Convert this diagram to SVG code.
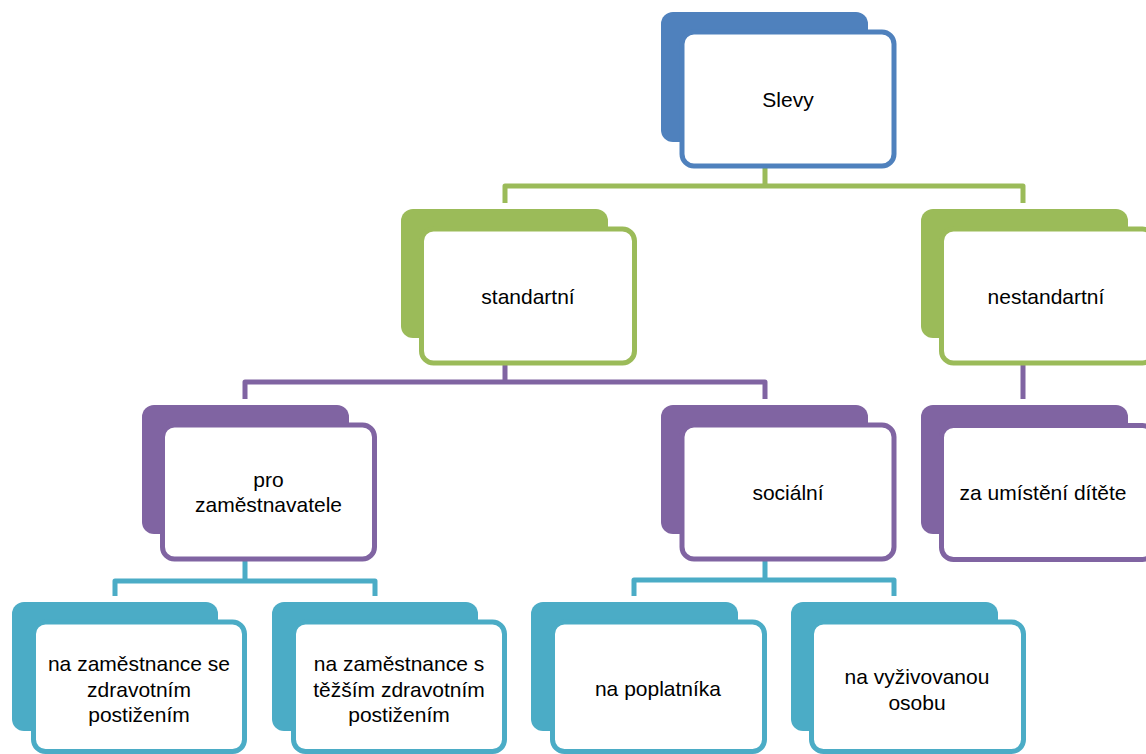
<svg xmlns="http://www.w3.org/2000/svg" width="1146" height="754" viewBox="0 0 1146 754">
<style>
.back{stroke:none}
.front{fill:#FFFFFF;stroke-width:5}
.blue .back{fill:#4F81BD}.blue .front{stroke:#4F81BD}
.green .back{fill:#9BBB59}.green .front{stroke:#9BBB59}
.purple .back{fill:#8064A2}.purple .front{stroke:#8064A2}
.teal .back{fill:#4BACC6}.teal .front{stroke:#4BACC6}
.lbl{font-family:"Liberation Sans",Arial,sans-serif;font-size:21px;fill:#000000;text-anchor:middle}
.conn path{fill:none;stroke-width:5;stroke-linejoin:round}
</style>
<rect width="1146" height="754" fill="#FFFFFF"/>
<g id="connectors" class="conn">
<path d="M765,166 V186 M505,203 V186 H1023 V203" stroke="#9BBB59"/>
<path d="M505,363 V382 M245,399 V382 H765 V399 M1023,363 V399" stroke="#8064A2"/>
<path d="M245,559 V581 M115,596 V581 H375 V596" stroke="#4BACC6"/>
<path d="M765,559 V580 M634,596 V580 H894 V596" stroke="#4BACC6"/>
</g>
<g id="n-slevy" class="blue">
<rect class="back" x="661" y="12" width="207" height="130" rx="12"/>
<rect class="front" x="682" y="32" width="212" height="134" rx="12"/>
<text class="lbl" x="788" y="106.5">Slevy</text>
</g>
<g id="n-standartni" class="green">
<rect class="back" x="401" y="209" width="207" height="129" rx="12"/>
<rect class="front" x="421.5" y="229" width="213" height="134" rx="12"/>
<text class="lbl" x="528" y="303.5">standartní</text>
</g>
<g id="n-nestandartni" class="green">
<rect class="back" x="921" y="209" width="207" height="129" rx="12"/>
<rect class="front" x="941.5" y="229" width="213" height="134" rx="12"/>
<text class="lbl" x="1046" y="303.5">nestandartní</text>
</g>
<g id="n-pro-zamestnavatele" class="purple">
<rect class="back" x="142" y="405" width="207" height="129" rx="12"/>
<rect class="front" x="162.5" y="425" width="212" height="134" rx="12"/>
<text class="lbl" x="268.5" y="486.5">pro</text>
<text class="lbl" x="268.5" y="512">zaměstnavatele</text>
</g>
<g id="n-socialni" class="purple">
<rect class="back" x="661" y="405" width="207" height="129" rx="12"/>
<rect class="front" x="682" y="425" width="212" height="134" rx="12"/>
<text class="lbl" x="788" y="499.5">sociální</text>
</g>
<g id="n-za-umisteni" class="purple">
<rect class="back" x="921" y="405" width="207" height="129" rx="12"/>
<rect class="front" x="941.5" y="425.5" width="213" height="134" rx="12"/>
<text class="lbl" x="1043" y="499.5">za umístění dítěte</text>
</g>
<g id="n-zp" class="teal">
<rect class="back" x="12" y="602" width="206" height="129" rx="12"/>
<rect class="front" x="33.5" y="622" width="211" height="129.5" rx="12"/>
<text class="lbl" x="139" y="671">na zaměstnance se</text>
<text class="lbl" x="139" y="696.5">zdravotním</text>
<text class="lbl" x="139" y="722">postižením</text>
</g>
<g id="n-tzp" class="teal">
<rect class="back" x="272" y="602" width="206" height="129" rx="12"/>
<rect class="front" x="293.5" y="622" width="211" height="129.5" rx="12"/>
<text class="lbl" x="399" y="671">na zaměstnance s</text>
<text class="lbl" x="399" y="696.5">těžším zdravotním</text>
<text class="lbl" x="399" y="722">postižením</text>
</g>
<g id="n-poplatnik" class="teal">
<rect class="back" x="531" y="602" width="207" height="129" rx="12"/>
<rect class="front" x="552.5" y="622" width="212" height="129.5" rx="12"/>
<text class="lbl" x="658" y="696">na poplatníka</text>
</g>
<g id="n-vyzivovana" class="teal">
<rect class="back" x="791" y="602" width="207" height="129" rx="12"/>
<rect class="front" x="811.5" y="622" width="212" height="129.5" rx="12"/>
<text class="lbl" x="917" y="684">na vyživovanou</text>
<text class="lbl" x="917" y="709.5">osobu</text>
</g>
</svg>
